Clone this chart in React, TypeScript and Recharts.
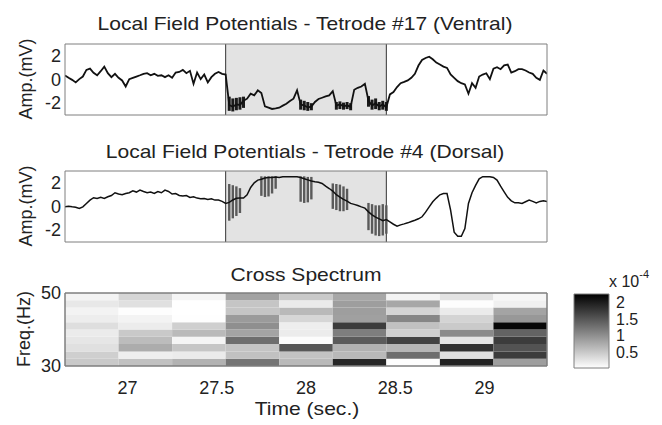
import React from 'react';
import { LineChart, Line, XAxis, YAxis, ReferenceArea, ReferenceLine, ComposedChart, ErrorBar } from 'recharts';

const FONT = '"Liberation Sans", Arial, Helvetica, sans-serif';
const AXIS = '#7f7f7f';
const INK = '#222';

// time axis (sec.)
const T_START = 26.65;
const T_END = 29.35;
const T_STEP = 0.02;
const timeTicks = [27, 27.5, 28, 28.5, 29];
const ampTicks = [-2, 0, 2];
const ampDomain = [-3, 3];
const stimWindow = [27.55, 28.45];

// Tetrode #17 (ventral), mV
const ventralLfp = [
  0.34, 0.14, -0.03, -0.25, 0.03, 0.25, 0.81, 0.92, 0.56, 0.36,
  0.70, 1.09, 0.53, 0.20, 0.48, 0.14, -0.08, -0.59, 0.03, 0.14,
  0.25, 0.36, 0.48, 0.53, 0.36, 0.48, 0.31, 0.36, 0.20, 0.36,
  0.14, 0.59, 0.64, 0.81, 0.53, 0.73, -0.36, 0.59, 0.03, 0.42,
  -0.25, 0.20, 0.48, 0.64, 0.48, 0.42, -2.15, -2.30, -2.10, -2.15,
  -1.80, -1.62, -1.20, -1.34, -0.92, -1.15, -2.27, -2.38, -2.49, -2.44,
  -2.38, -2.21, -2.05, -1.82, -1.62, -0.92, -2.10, -2.20, -2.35, -2.30,
  -1.90, -1.65, -1.54, -1.43, -1.34, -0.98, -2.20, -2.10, -2.25, -2.20,
  -2.30, -0.87, -0.70, -0.59, -0.36, -1.80, -2.20, -2.00, -2.30, -2.10,
  -2.35, -1.26, -1.06, -0.64, -0.31, -0.20, -0.08, 0.14, 0.48, 1.18,
  1.65, 1.82, 1.93, 1.71, 1.43, 1.26, 1.09, 0.98, 0.42, 0.14,
  -0.14, -0.31, -0.42, -1.20, -0.31, -0.70, 0.25, 0.42, 0.53, 0.03,
  0.92, 1.04, 0.87, 1.20, 1.26, 0.59, 0.70, 0.87, 0.87, 0.76,
  0.59, 0.48, 0.14, -0.03, 0.76, 0.48,
];
// noisy stretches: [sample, low, high]
const ventralBursts: [number, number, number][] = [
  [46, -2.65, -1.45], [47, -2.7, -1.6], [48, -2.6, -1.55], [49, -2.55, -1.5], [50, -2.4, -1.45],
  [66, -2.55, -1.7], [67, -2.6, -1.8], [68, -2.65, -1.9], [69, -2.6, -2.0],
  [76, -2.55, -1.9], [77, -2.5, -1.85], [78, -2.55, -1.95], [79, -2.5, -1.9], [80, -2.6, -2.0],
  [85, -2.3, -1.4], [86, -2.55, -1.7], [87, -2.5, -1.6], [88, -2.6, -1.9], [89, -2.55, -1.8], [90, -2.65, -1.9],
];

// Tetrode #4 (dorsal), mV
const dorsalLfp = [
  -0.03, 0.03, -0.03, -0.06, -0.17, -0.03, 0.26, 0.54, 0.74, 0.68,
  0.77, 0.68, 0.82, 0.93, 1.16, 1.05, 0.99, 1.10, 1.16, 1.33,
  1.22, 1.39, 1.27, 1.16, 1.22, 1.10, 1.27, 1.16, 1.39, 1.27,
  1.05, 1.10, 0.93, 0.88, 0.93, 0.77, 0.82, 0.71, 0.65, 0.68,
  0.60, 0.65, 0.54, 0.54, 0.43, 0.26, 0.35, 0.55, 0.70, 0.72,
  0.71, 0.99, 1.61, 2.00, 2.23, 2.30, 2.40, 2.45, 2.45, 2.50,
  2.45, 2.52, 2.52, 2.52, 2.52, 2.52, 2.45, 2.35, 2.25, 2.15,
  2.09, 2.05, 1.95, 1.72, 1.52, 1.30, 1.00, 0.80, 0.60, 0.45,
  0.26, 0.18, 0.09, -0.03, -0.14, -0.45, -0.70, -0.90, -1.05, -1.20,
  -1.10, -1.30, -1.50, -1.67, -1.55, -1.47, -1.38, -1.27, -1.16, -1.04,
  -0.87, -0.48, -0.03, 0.40, 0.71, 0.99, 1.10, 1.10, -0.31, -2.17,
  -2.51, -2.51, -1.86, 0.26, 1.16, 1.78, 2.34, 2.52, 2.52, 2.52,
  2.46, 2.23, 1.72, 1.24, 0.77, 0.48, 0.31, 0.31, 0.26, 0.40,
  0.54, 0.43, 0.31, 0.43, 0.48, 0.43,
];
const dorsalBursts: [number, number, number][] = [
  [46, -1.2, 1.9], [47, -1.0, 1.8], [48, -0.8, 1.7], [49, -0.55, 1.55],
  [55, 0.9, 2.55], [56, 0.8, 2.55], [57, 0.85, 2.55], [58, 1.1, 2.55], [59, 1.5, 2.55],
  [66, 0.4, 2.55], [67, 0.3, 2.55], [68, 0.35, 2.5], [69, 0.6, 2.5],
  [75, -0.2, 1.95], [76, -0.3, 1.9], [77, -0.4, 1.85], [78, -0.4, 1.7], [79, -0.3, 1.5],
  [85, -2.0, 0.3], [86, -2.3, 0.2], [87, -2.45, 0.1], [88, -2.5, 0.1], [89, -2.45, 0.2], [90, -2.3, 0.1],
];

// cross spectrum (x 10^-4), one column per time bin, rows 30 -> 50 Hz
const timeBins = [26.8, 27.1, 27.4, 27.7, 28.0, 28.3, 28.6, 28.9, 29.2];
const freqBins = [31, 33, 35, 37, 39, 41, 43, 45, 47, 49];
const freqTicks = [30, 50];
const crossSpectrum = [
  [0.50, 0.44, 0.29, 0.24, 0.20, 0.31, 0.18, 0.13, 0.22, 0.13],
  [0.57, 0.17, 0.75, 0.61, 0.50, 0.19, 0.13, 0.04, 0.29, 0.38],
  [0.70, 0.20, 0.52, 0.11, 0.63, 0.44, 0.03, 0.02, 0.02, 0.11],
  [1.24, 0.57, 0.54, 1.30, 0.82, 1.01, 0.90, 0.53, 0.53, 0.84],
  [0.64, 0.56, 1.50, 0.05, 0.19, 0.17, 0.38, 0.64, 0.20, 0.50],
  [1.93, 0.64, 0.70, 1.47, 1.16, 1.74, 0.86, 0.88, 0.88, 0.80],
  [0.04, 1.30, 0.66, 1.69, 0.44, 0.57, 1.09, 0.40, 0.80, 0.13],
  [1.97, 0.29, 1.84, 0.26, 1.05, 0.49, 0.40, 0.20, 0.04, 0.27],
  [0.88, 1.74, 1.54, 1.74, 1.40, 2.20, 0.93, 0.82, 0.15, 0.10],
];
const colorTicks = [0.5, 1, 1.5, 2];
const colorRange = [0.02, 2.27];

const errorsFrom = (values: number[], bursts: [number, number, number][]) => {
  const out: ([number, number] | undefined)[] = values.map(() => undefined);
  bursts.forEach(([i, lo, hi]) => {
    out[i] = [Math.max(0, values[i] - lo), Math.max(0, hi - values[i])];
  });
  return out;
};
const ventralErr = errorsFrom(ventralLfp, ventralBursts);
const dorsalErr = errorsFrom(dorsalLfp, dorsalBursts);

const lfpRows = ventralLfp.map((v, i) => ({
  t: +(T_START + i * T_STEP).toFixed(3),
  ventral: v,
  ventralErr: ventralErr[i],
  dorsal: dorsalLfp[i],
  dorsalErr: dorsalErr[i],
}));

// inverted gray colormap: white = low, black = high
const grayOf = (v: number) => {
  const k = Math.max(0, Math.min(1, (colorRange[1] - v) / (colorRange[1] - colorRange[0])));
  const g = Math.round(k * 255);
  return `rgb(${g},${g},${g})`;
};

const halfT = (timeBins[1] - timeBins[0]) / 2;
const halfF = (freqBins[1] - freqBins[0]) / 2;
const cells = timeBins.flatMap((t, ci) =>
  freqBins.map((f, ri) => ({ t, f, value: crossSpectrum[ci][ri] }))
);

const LeftTick = (props: any) => {
  const { x, y, payload } = props;
  return (
    <text x={x} y={y} dy="0.35em" textAnchor="end" fontSize={18} fontFamily={FONT} fill={INK}>
      {payload.value}
    </text>
  );
};

const TimeTick = (props: any) => {
  const { x, y, payload } = props;
  return (
    <text x={x} y={y} dy="0.71em" textAnchor="middle" fontSize={18} fontFamily={FONT} fill={INK}>
      {payload.value}
    </text>
  );
};

const ColorTick = (props: any) => {
  const { x, y, payload } = props;
  return (
    <text x={x} y={y} dy="0.35em" textAnchor="start" fontSize={16} fontFamily={FONT} fill={INK}>
      {payload.value}
    </text>
  );
};

interface LfpPanelProps {
  dataKey: 'ventral' | 'dorsal';
  top: number;
  height: number;
  marginTop: number;
  marginBottom: number;
}

const LfpPanel: React.FC<LfpPanelProps> = ({ dataKey, top, height, marginTop, marginBottom }) => {
  const ventral = dataKey === 'ventral';
  return (
    <div style={{ position: 'absolute', left: 0, top, width: 662, height }}>
      <LineChart
        width={662}
        height={height}
        data={lfpRows}
        margin={{ top: marginTop, right: 115, bottom: marginBottom, left: 0 }}
      >
        <XAxis xAxisId="b" dataKey="t" type="number" domain={[T_START, T_END]} allowDataOverflow
          ticks={timeTicks} tick={false} mirror tickSize={4} axisLine={{ stroke: AXIS }} tickLine={{ stroke: AXIS }} />
        <XAxis xAxisId="t" orientation="top" dataKey="t" type="number" domain={[T_START, T_END]} allowDataOverflow
          ticks={timeTicks} tick={false} mirror tickSize={4} axisLine={{ stroke: AXIS }} tickLine={{ stroke: AXIS }} />
        <YAxis yAxisId="l" dataKey={dataKey} type="number" domain={ampDomain} allowDataOverflow ticks={ampTicks}
          width={65} tickSize={0} tickMargin={4} tickLine={false} axisLine={{ stroke: AXIS }} tick={LeftTick} />
        <YAxis yAxisId="lm" dataKey={dataKey} type="number" domain={ampDomain} allowDataOverflow ticks={ampTicks}
          mirror tick={false} tickSize={4} axisLine={false} tickLine={{ stroke: AXIS }} />
        <YAxis yAxisId="r" orientation="right" dataKey={dataKey} type="number" domain={ampDomain} allowDataOverflow
          ticks={ampTicks} mirror tick={false} tickSize={4} axisLine={{ stroke: AXIS }} tickLine={{ stroke: AXIS }} />
        <ReferenceArea xAxisId="b" yAxisId="l" x1={stimWindow[0]} x2={stimWindow[1]} y1={ampDomain[0]} y2={ampDomain[1]}
          fill="#e3e3e3" fillOpacity={1} stroke="none" ifOverflow="visible" />
        <ReferenceLine xAxisId="b" yAxisId="l" x={stimWindow[0]} stroke="#333" strokeWidth={1} />
        <ReferenceLine xAxisId="b" yAxisId="l" x={stimWindow[1]} stroke="#333" strokeWidth={1} />
        <Line xAxisId="b" yAxisId="l" type="linear" dataKey={dataKey} stroke="#111"
          strokeWidth={ventral ? 1.8 : 1.5} dot={false} activeDot={false} isAnimationActive={false}>
          <ErrorBar dataKey={`${dataKey}Err`} direction="y" width={0}
            stroke={ventral ? '#1a1a1a' : '#5a5a5a'} strokeWidth={ventral ? 3 : 2.4} isAnimationActive={false} />
        </Line>
      </LineChart>
    </div>
  );
};

const Heatmap = () => (
  <div style={{ position: 'absolute', left: 0, top: 255, width: 662, height: 170 }}>
    <ComposedChart width={662} height={170} data={cells} margin={{ top: 38, right: 115, bottom: 0, left: 0 }}>
      <XAxis dataKey="t" type="number" domain={[T_START, T_END]} allowDataOverflow ticks={timeTicks}
        height={59} tickSize={0} tickMargin={15} tickLine={false} axisLine={{ stroke: AXIS }} tick={TimeTick} />
      <XAxis xAxisId="t" orientation="top" dataKey="t" type="number" domain={[T_START, T_END]} allowDataOverflow
        mirror tick={false} tickLine={false} axisLine={{ stroke: AXIS }} />
      <YAxis dataKey="f" type="number" domain={[30, 50]} allowDataOverflow ticks={freqTicks}
        width={65} tickSize={0} tickMargin={4} tickLine={false} axisLine={{ stroke: AXIS }} tick={LeftTick} />
      <YAxis yAxisId="r" orientation="right" dataKey="f" type="number" domain={[30, 50]} allowDataOverflow
        mirror tick={false} tickLine={false} axisLine={{ stroke: AXIS }} />
      {cells.map((c, i) => (
        <ReferenceArea key={i} x1={c.t - halfT} x2={c.t + halfT} y1={c.f - halfF} y2={c.f + halfF}
          fill={grayOf(c.value)} fillOpacity={1} stroke="none" ifOverflow="visible" />
      ))}
      <ReferenceArea x1={T_START} x2={T_END} y1={30} y2={50} fill="none" stroke={AXIS} ifOverflow="visible" />
    </ComposedChart>
  </div>
);

const colorRows = colorTicks.map((c) => ({ x: 0.5, c }));

const ColorBar = () => (
  <div style={{ position: 'absolute', left: 560, top: 280, width: 110, height: 100 }}>
    <ComposedChart width={110} height={100} data={colorRows} margin={{ top: 14, right: 21, bottom: 12, left: 14 }}>
      <defs>
        <linearGradient id="cbarGrad" x1="0" y1="0" x2="0" y2="1">
          <stop offset="0" stopColor="#000" />
          <stop offset="1" stopColor="#fff" />
        </linearGradient>
      </defs>
      <XAxis dataKey="x" type="number" domain={[0, 1]} hide />
      <YAxis yAxisId="r" orientation="right" dataKey="c" type="number" domain={colorRange} allowDataOverflow
        ticks={colorTicks} interval={0} width={40} tickSize={0} tickMargin={7} tickLine={false} axisLine={false}
        tick={ColorTick} />
      <YAxis yAxisId="rm" orientation="right" dataKey="c" type="number" domain={colorRange} allowDataOverflow
        ticks={colorTicks} interval={0} mirror tick={false} tickSize={4} axisLine={false} tickLine={{ stroke: AXIS }} />
      <ReferenceArea yAxisId="r" x1={0} x2={1} y1={colorRange[0]} y2={colorRange[1]}
        fill="url(#cbarGrad)" fillOpacity={1} stroke={AXIS} ifOverflow="visible" />
    </ComposedChart>
  </div>
);

const Title = ({ x, y, children }: { x: number; y: number; children: React.ReactNode }) => (
  <text transform={`translate(${x},${y}) scale(1.17,1)`} textAnchor="middle" fontSize={18} fontFamily={FONT} fill={INK}>
    {children}
  </text>
);

const VLabel = ({ x, y, children }: { x: number; y: number; children: React.ReactNode }) => (
  <text transform={`translate(${x},${y}) rotate(-90)`} textAnchor="middle" dominantBaseline="central"
    fontSize={18} fontFamily={FONT} fill={INK}>
    {children}
  </text>
);

export default function App() {
  return (
    <div style={{ position: 'absolute', left: 0, top: 0, width: 662, height: 425, background: '#fff', overflow: 'hidden' }}>
      <LfpPanel dataKey="ventral" top={0} height={130} marginTop={44} marginBottom={15} />
      <LfpPanel dataKey="dorsal" top={130} height={125} marginTop={41} marginBottom={13} />
      <Heatmap />
      <ColorBar />
      <svg width={662} height={425} style={{ position: 'absolute', left: 0, top: 0, pointerEvents: 'none' }}>
        <Title x={305} y={29.5}>Local Field Potentials - Tetrode #17 (Ventral)</Title>
        <Title x={305} y={157.5}>Local Field Potentials - Tetrode #4 (Dorsal)</Title>
        <Title x={306} y={281}>Cross Spectrum</Title>
        <Title x={307} y={415}>Time (sec.)</Title>
        <VLabel x={26} y={79}>Amp.(mV)</VLabel>
        <VLabel x={26} y={206}>Amp.(mV)</VLabel>
        <VLabel x={24} y={329}>Freq.(Hz)</VLabel>
        <text x={609} y={287} fontSize={16} fontFamily={FONT} fill={INK}>
          x 10<tspan fontSize={11} dy={-9}>-4</tspan>
        </text>
      </svg>
    </div>
  );
}
